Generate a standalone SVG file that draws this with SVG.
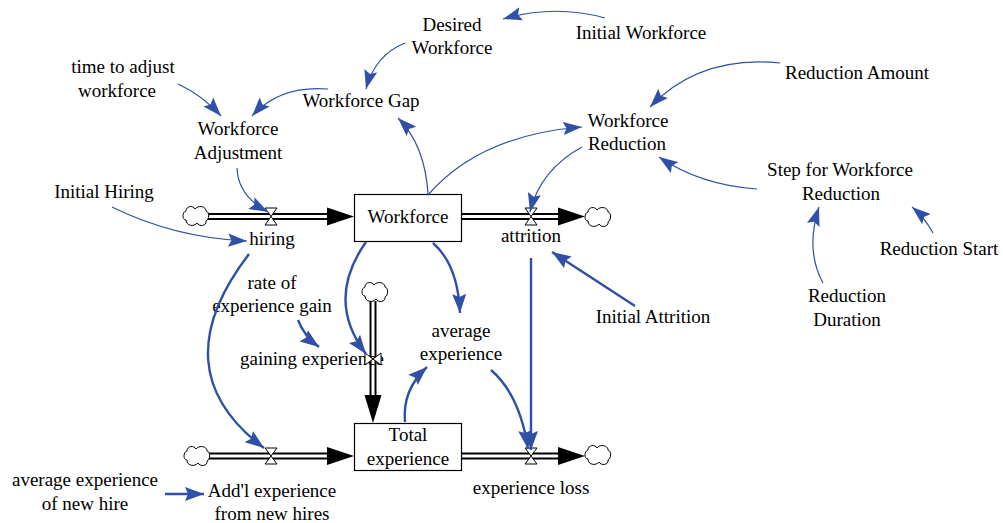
<svg xmlns="http://www.w3.org/2000/svg" width="1003" height="523" viewBox="0 0 1003 523">
<style>
text{font-family:"Liberation Serif","Times New Roman",serif;font-size:19px;fill:#000;text-anchor:middle}
.stock{fill:#fff;stroke:#000;stroke-width:1.2}
.pipeO{stroke:#000;stroke-width:7;fill:none}
.pipeI{stroke:#fff;stroke-width:3;fill:none}
.head{fill:#000}
.valve{fill:#fff;stroke:#000;stroke-width:1}
.cloud{fill:#fff;stroke:#000;stroke-width:1}
.thin{fill:none;stroke:#3050A8;stroke-width:1.2;marker-end:url(#ah)}
.thick{fill:none;stroke:#3050A8;stroke-width:2.4;marker-end:url(#ahb)}
</style>
<defs>
<marker id="ah" markerUnits="userSpaceOnUse" markerWidth="20" markerHeight="14" viewBox="0 0 18 12" refX="17" refY="6" orient="auto">
<path d="M0,0 L17,6 L0,12 L3,6 Z" fill="#3050A8"/>
</marker>
<marker id="ahb" markerUnits="userSpaceOnUse" markerWidth="20" markerHeight="16" viewBox="0 0 20 14" refX="19" refY="7" orient="auto">
<path d="M0,0 L19,7 L0,14 L3,7 Z" fill="#3050A8"/>
</marker>
<path id="cl" d="M-10,4 C-14,4 -14,-4 -10,-5 C-10,-10 -3,-11 -1,-7 C2,-11 10,-10 10,-5 C14,-4 13,4 10,5 C11,10 3,11 1,7 C-2,11 -10,10 -10,4 Z"/>
</defs>

<g id="flows">
<path class="pipeO" d="M206,216.5 H330"/><path class="pipeI" d="M206,216.5 H330"/>
<polygon class="head" points="327,207.5 354,216.5 327,225.5"/>
<path class="pipeO" d="M462,216.5 H560"/><path class="pipeI" d="M461,216.5 H560"/>
<polygon class="head" points="558,207.5 585,216.5 558,225.5"/>
<path class="pipeO" d="M207,456 H330"/><path class="pipeI" d="M207,456 H330"/>
<polygon class="head" points="327,447 354,456 327,465"/>
<path class="pipeO" d="M462,456 H560"/><path class="pipeI" d="M461,456 H560"/>
<polygon class="head" points="558,447 585,456 558,465"/>
<path class="pipeO" d="M373,301 V398"/><path class="pipeI" d="M373,301 V398"/>
<polygon class="head" points="364.5,395 381.5,395 373,423"/>
</g>

<g id="clouds">
<use href="#cl" class="cloud" x="196" y="216"/>
<use href="#cl" class="cloud" x="598" y="217"/>
<use href="#cl" class="cloud" x="375" y="292"/>
<use href="#cl" class="cloud" x="197" y="456"/>
<use href="#cl" class="cloud" x="598" y="455"/>
</g>

<g id="stock-workforce">
<rect class="stock" x="354.5" y="194.5" width="107" height="47"/>
<text x="408" y="223">Workforce</text>
</g>
<g id="stock-total-experience">
<rect class="stock" x="354.5" y="423.5" width="107" height="47"/>
<text x="408" y="441">Total</text>
<text x="408" y="465">experience</text>
</g>

<g id="flow-hiring">
<polygon class="valve" points="265,208 277,208 265,225 277,225"/>
<text x="272" y="245">hiring</text>
</g>
<g id="flow-attrition">
<polygon class="valve" points="525,208 537,208 525,225 537,225"/>
<text x="531" y="242">attrition</text>
</g>
<g id="flow-addl">
<polygon class="valve" points="265,448 277,448 265,464 277,464"/>
<text x="272" y="497">Add'l experience</text>
<text x="272" y="520">from new hires</text>
</g>
<g id="flow-loss">
<polygon class="valve" points="525,448 537,448 525,464 537,464"/>
<text x="531" y="494">experience loss</text>
</g>
<g id="flow-gaining">
<text x="312" y="365">gaining experience</text>
<polygon class="valve" points="365,353 365,365 381,353 381,365"/>
</g>

<g id="aux-desired"><text x="452" y="31">Desired</text><text x="452" y="54">Workforce</text></g>
<g id="aux-initial-workforce"><text x="641" y="39">Initial Workforce</text></g>
<g id="aux-time-adjust"><text x="123" y="73">time to adjust</text><text x="117" y="97">workforce</text></g>
<g id="aux-gap"><text x="361" y="107">Workforce Gap</text></g>
<g id="aux-reduction-amount"><text x="857" y="79">Reduction Amount</text></g>
<g id="aux-workforce-reduction"><text x="628" y="127">Workforce</text><text x="627" y="150">Reduction</text></g>
<g id="aux-adjustment"><text x="238" y="135">Workforce</text><text x="238" y="159">Adjustment</text></g>
<g id="aux-step"><text x="840" y="176">Step for Workforce</text><text x="841" y="200">Reduction</text></g>
<g id="aux-initial-hiring"><text x="104" y="198">Initial Hiring</text></g>
<g id="aux-reduction-start"><text x="939" y="255">Reduction Start</text></g>
<g id="aux-rate-gain"><text x="272" y="289">rate of</text><text x="272" y="312">experience gain</text></g>
<g id="aux-reduction-duration"><text x="847" y="302">Reduction</text><text x="847" y="326">Duration</text></g>
<g id="aux-initial-attrition"><text x="653" y="323">Initial Attrition</text></g>
<g id="aux-average-experience"><text x="461" y="337">average</text><text x="461" y="360">experience</text></g>
<g id="aux-avg-new-hire"><text x="85" y="486">average experience</text><text x="85" y="510">of new hire</text></g>

<g id="connectors">
<path class="thin" d="M605,18 Q555,4 503,19"/>
<path class="thin" d="M405,43 Q375,55 366,89"/>
<path class="thin" d="M328,89 Q280,85 252,116"/>
<path class="thin" d="M178,84 Q202,95 221,116"/>
<path class="thin" d="M237,168 Q238,196 268,212"/>
<path class="thin" d="M112,207 Q175,238 247,241"/>
<path class="thin" d="M428,194 Q425,145 398,118"/>
<path class="thin" d="M428,195 Q480,135 582,127"/>
<path class="thin" d="M780,63 Q700,55 650,107"/>
<path class="thin" d="M757,189 Q700,185 659,157"/>
<path class="thin" d="M582,147 Q540,170 530,212"/>
<path class="thin" d="M823,283 Q805,250 819,207"/>
<path class="thin" d="M933,233 Q925,218 912,207"/>
<path class="thick" d="M635,306 L552,252"/>
<path class="thick" d="M531,258 L531,450"/>
<path class="thick" d="M491,370 Q520,395 528,449"/>
<path class="thick" d="M433,243 Q458,265 460,313"/>
<path class="thick" d="M366,242 Q325,300 366,354"/>
<path class="thick" d="M405,422 Q402,390 427,367"/>
<path class="thick" d="M249,254 Q160,370 264,448"/>
<path class="thick" d="M298,320 Q304,336 319,347"/>
<path class="thick" d="M165,494 L204,494"/>
</g>
</svg>
